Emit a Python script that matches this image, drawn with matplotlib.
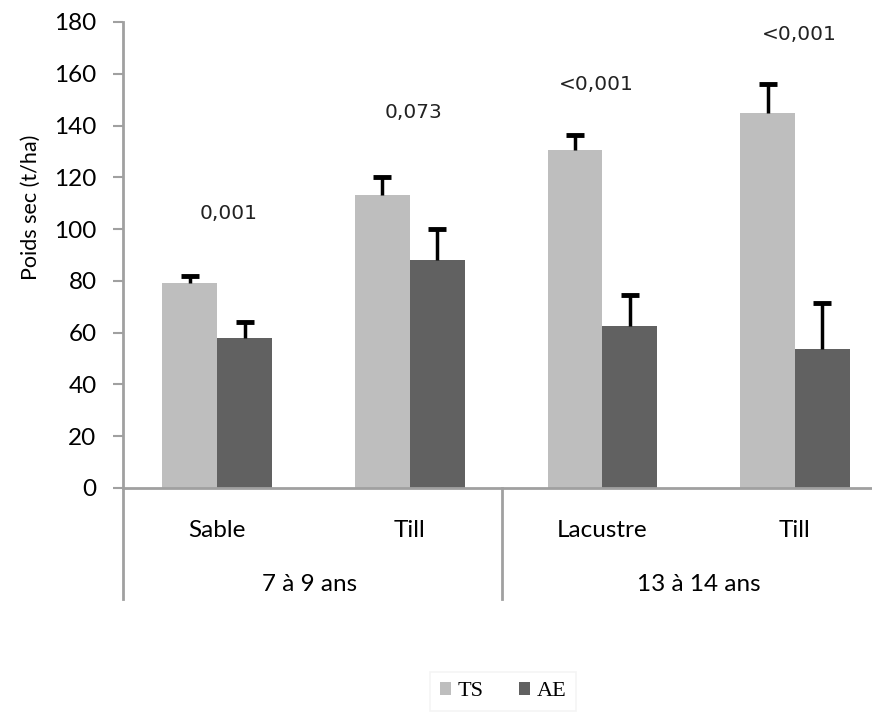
import matplotlib.pyplot as plt
import numpy as np

# data
categories = ["Sable", "Till", "Lacustre", "Till"]
groups = ["7 à 9 ans", "13 à 14 ans"]
ts_values = [79, 113, 130.5, 145]
ts_err = [3, 7, 6, 11]
ae_values = [58, 88, 62.5, 53.5]
ae_err = [6, 12, 12, 18]
p_labels = ["0,001", "0,073", "<0,001", "<0,001"]
p_y = [106, 145, 156, 175]

TS_COLOR = "#bebebe"
AE_COLOR = "#616161"
AXIS_COLOR = "#a0a0a0"

plt.rcParams["font.family"] = ["Lato", "DejaVu Sans"]

fig = plt.figure(figsize=(8.72, 7.14), dpi=100)
ax = fig.add_axes([123 / 872, 1 - 488 / 714, 1 - 123 / 872, 466 / 714])

x = np.arange(len(categories))
w = 0.285
ax.bar(x - w / 2, ts_values, w, color=TS_COLOR, label="TS")
ax.bar(x + w / 2, ae_values, w, color=AE_COLOR, label="AE")

# upper-only error bars: stem + cap
for xs, vals, errs in [(x - w / 2, ts_values, ts_err), (x + w / 2, ae_values, ae_err)]:
    tops = np.array(vals) + np.array(errs)
    ax.vlines(xs, vals, tops, color="black", lw=2.5, zorder=3)
    ax.plot(xs, tops, ls="none", marker="_", ms=13, mew=3.5, color="black", zorder=3)

# p-values above each pair
offsets = [0.06, 0.02, -0.03, 0.02]
for i in range(len(categories)):
    ax.text(x[i] + offsets[i], p_y[i], p_labels[i], ha="center", va="center",
            fontsize=14.5, color="#222222", family="DejaVu Sans")

ax.set_xlim(-0.49, 3.4)
ax.set_ylim(0, 180)
ax.set_yticks(range(0, 181, 20))
ax.tick_params(axis="y", labelsize=17.5, length=7, color=AXIS_COLOR, width=1.5, pad=12)
ax.set_xticks([])
for s in ["top", "right"]:
    ax.spines[s].set_visible(False)
for s in ["left", "bottom"]:
    ax.spines[s].set_color(AXIS_COLOR)
    ax.spines[s].set_linewidth(2)
ax.set_ylabel("Poids sec (t/ha)", fontsize=15.5)
ax.yaxis.set_label_coords(-0.109, 0.603)

# category and group labels under the axis
for i, c in enumerate(categories):
    ax.text(x[i], -16.5, c, ha="center", va="center", fontsize=17.5, clip_on=False)
for g, gx in zip(groups, [0.48, 2.5]):
    ax.text(gx, -37.3, g, ha="center", va="center", fontsize=17.5, clip_on=False)
for lx in [-0.49, 1.48]:
    ax.plot([lx, lx], [0, -43], color=AXIS_COLOR, lw=2, clip_on=False)

leg = fig.legend(loc="upper center", bbox_to_anchor=(503 / 872, 1 - 672 / 714), ncol=2,
                 frameon=True, fancybox=False, edgecolor="#f2f2f2", borderpad=0.45,
                 borderaxespad=0,
                 prop={"family": "Liberation Serif", "size": 16},
                 handlelength=0.5, handleheight=0.5, columnspacing=1.6, handletextpad=0.3)
leg.get_frame().set_linewidth(1.2)

fig.savefig("out.png", dpi=100)
